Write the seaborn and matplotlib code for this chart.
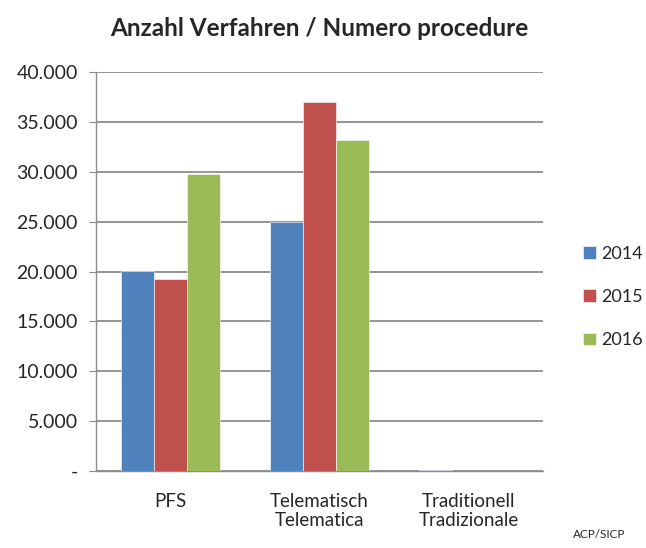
import seaborn as sns
import matplotlib.pyplot as plt
import pandas as pd
from matplotlib.ticker import FuncFormatter

categories = ["PFS", "Telematisch\nTelematica", "Traditionell\nTradizionale"]
years = ["2014", "2015", "2016"]
values_2014 = [20100, 25000, 60]
values_2015 = [19300, 37000, 50]
values_2016 = [29800, 33200, 10]
colors = ["#4F81BD", "#C0504D", "#9BBB59"]

rows = []
for year, vals in zip(years, [values_2014, values_2015, values_2016]):
    for cat, v in zip(categories, vals):
        rows.append({"Kategorie": cat, "Jahr": year, "Anzahl": v})
df = pd.DataFrame(rows)

sns.set_style("white")
plt.rcParams["font.family"] = ["Lato", "DejaVu Sans"]

fig = plt.figure(figsize=(6.46, 5.48), dpi=100)
ax = fig.add_axes([0.1486, 0.1405, 0.692, 0.728])

sns.barplot(data=df, x="Kategorie", y="Anzahl", hue="Jahr", order=categories,
            hue_order=years, palette=colors, width=0.66, saturation=1,
            edgecolor="white", linewidth=0.4, ax=ax, zorder=3)

ax.set_ylim(0, 40000)
ax.set_xlim(-0.5, 2.5)
ax.set_yticks(range(0, 40001, 5000))
ax.yaxis.set_major_formatter(FuncFormatter(
    lambda v, p: "-" if v == 0 else f"{int(v):,}".replace(",", ".")))
ax.grid(axis="y", color="#8C8C8C", linewidth=1.3, zorder=0)
ax.set_axisbelow(True)

for s in ["top", "right"]:
    ax.spines[s].set_visible(False)
for s in ["left", "bottom"]:
    ax.spines[s].set_color("#8C8C8C")
    ax.spines[s].set_linewidth(1.0)

ax.tick_params(axis="y", left=True, length=5, color="#8C8C8C", labelsize=14, pad=8)
ax.tick_params(axis="x", bottom=False, labelsize=13.5, pad=12)
ax.set_xlabel("")
ax.set_ylabel("")

ax.set_title("Anzahl Verfahren / Numero procedure", fontsize=17.5, fontweight="bold", pad=26)

ax.legend(loc="center left", bbox_to_anchor=(1.065, 0.436), frameon=False,
          fontsize=13, handlelength=0.7, handleheight=0.7, labelspacing=1.5,
          handletextpad=0.3, borderaxespad=0.2)

fig.text(0.928, 0.015, "ACP/SICP", fontsize=8.5, ha="center", va="bottom")

plt.savefig("out.png", dpi=100)
